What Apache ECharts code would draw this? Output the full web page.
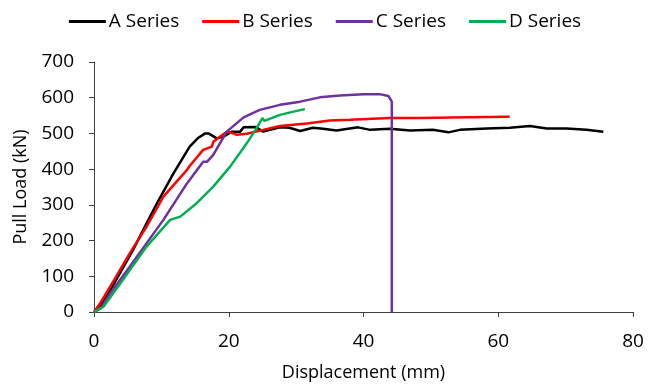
<!DOCTYPE html>
<html><head><meta charset="utf-8">
<script src="https://cdn.jsdelivr.net/npm/echarts@6/dist/echarts.min.js"></script>
<style>html,body{margin:0;padding:0;background:#fff}#c{width:650px;height:384px}</style>
</head><body><div id="c"></div>
<script>
const seriesNames = ['A Series','B Series','C Series','D Series'];
const seriesColors = ['#000000','#ff0000','#7030a0','#00b050'];
const xTicks = [0,20,40,60,80];
const yTicks = [0,100,200,300,400,500,600,700];
const aData = [[0,0],[1,15],[3,80],[5.8,174],[7.8,248],[9.5,310],[11.8,388],[14.2,463],[15.5,488],[16.5,500],[17,500],[18.2,486],[19.2,491],[20.5,505],[21.7,505],[22.2,517],[24,518],[25.1,505],[27.6,517],[29,516],[30.6,507],[32.5,516],[34,513],[36,508],[39.2,517],[41,510],[43.9,513],[46.9,508],[50.3,510],[52.6,503],[54.3,510],[58.3,514],[61.7,516],[64.7,521],[67.2,514],[70.1,514],[73.1,510],[75.6,505]];
const bData = [[0,0],[0.9,24],[3,90],[5.3,164],[7.8,239],[10.3,323],[13.8,398],[14.2,409],[16.2,454],[17.5,463],[17.7,477],[18.7,491],[19.7,505],[20.7,500],[21.2,496],[22.7,499],[25.1,510],[27.6,521],[31.6,528],[35,536],[38,538],[43.9,543],[48.4,543],[55.3,545],[61.7,547]];
const cData = [[0,0],[1,10],[2.4,52],[5.3,127],[10.3,258],[13.8,360],[16.2,421],[16.8,421],[17.7,440],[19.7,505],[22.2,545],[24.6,566],[27.6,580],[30.6,589],[33.5,601],[36.5,606],[40,610],[42.4,610],[43.7,605],[44.2,589],[44.2,0]];
const dData = [[0,0],[1.4,15],[3.9,80],[7.8,183],[11.3,258],[12.8,267],[15.2,304],[17.7,351],[20.2,407],[22.7,473],[24.1,514],[25,543],[25.3,535],[27.6,552],[29.6,561],[31.3,568]];
const allData = [aData,bData,cData,dData];
const font = '"Open Sans", sans-serif';
const chart = echarts.init(document.getElementById('c'));
chart.setOption({
  animation:false,
  textStyle:{fontFamily:font},
  legend:{top:7,left:'center',itemGap:23,itemWidth:37,itemHeight:3,icon:'rect',
    textStyle:{fontSize:19,color:'#000',fontFamily:font,padding:[0,0,0,-2]},data:seriesNames},
  grid:{left:94,right:17,top:62,bottom:72,containLabel:false,outerBoundsMode:'none'},
  xAxis:{type:'value',min:xTicks[0],max:xTicks[xTicks.length-1],interval:20,
    name:'Displacement (mm)',nameLocation:'middle',nameGap:52,
    nameTextStyle:{fontSize:18,color:'#000',fontFamily:font},
    axisLine:{lineStyle:{color:'#404040',width:1}},
    axisTick:{show:true,inside:false,length:5,lineStyle:{color:'#404040'}},
    axisLabel:{fontSize:19,color:'#000',margin:20,fontFamily:font},
    splitLine:{show:false}},
  yAxis:{type:'value',min:yTicks[0],max:yTicks[yTicks.length-1],interval:100,
    name:'Pull Load (kN)',nameLocation:'middle',nameGap:64,
    nameTextStyle:{fontSize:18,color:'#000',fontFamily:font},
    axisLine:{show:true,lineStyle:{color:'#404040',width:1}},
    axisTick:{show:true,inside:false,length:5,lineStyle:{color:'#404040'}},
    axisLabel:{fontSize:19,color:'#000',margin:20,fontFamily:font},
    splitLine:{show:false}},
  series: seriesNames.map((n,i)=>({name:n,type:'line',data:allData[i],showSymbol:false,symbol:'none',
    lineStyle:{color:seriesColors[i],width:2.5},itemStyle:{color:seriesColors[i]},z:[2,3,4,5][i]}))
});
</script></body></html>
